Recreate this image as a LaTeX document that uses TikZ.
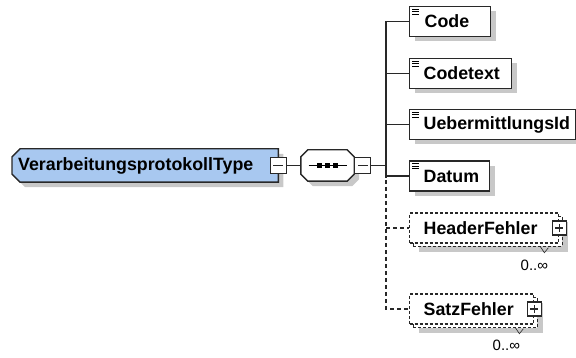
\documentclass[tikz,border=0pt]{standalone}
\usepackage{fontspec}
\setmainfont{Liberation Sans}
\usetikzlibrary{shadows,backgrounds}

\definecolor{linegray}{RGB}{40,40,40}
\definecolor{shadegray}{RGB}{200,200,200}
\definecolor{rootblue}{RGB}{168,200,240}

\newcommand\elemfont{\fontsize{17.8}{20}\selectfont\bfseries}
\newcommand\simpleicon[1]{%
  \foreach \dy in {3.5,6,8.5}
    \draw[line width=0.8pt] ([shift={(3,\dy)}]#1.north west) -- ++(7,0);}

\begin{document}
\begin{tikzpicture}[
    x=1pt, y=-1pt,
    conn/.style={draw=linegray, line width=1.3pt},
    optconn/.style={conn, dash pattern=on 4pt off 3pt},
    boxline/.style={draw=linegray, line width=1.4pt},
    shade/.style={drop shadow={shadow xshift=5pt, shadow yshift=-5pt, fill=shadegray, opacity=1}},
    elembase/.style={boxline, fill=white, text width=#1,
        inner xsep=0pt, inner ysep=0pt, minimum height=30pt, align=left,
        anchor=west, font=\elemfont},
    elem/.style={elembase=#1, shade},
    optelem/.style={elembase=#1, dash pattern=on 3pt off 2pt,
        drop shadow={shadow xshift=9pt, shadow yshift=-9pt, fill=shadegray, opacity=1},
        copy shadow={shadow xshift=3.5pt, shadow yshift=-3.5pt, draw=linegray,
            fill=white, line width=1.2pt, dash pattern=on 3pt off 2pt}},
    rootbox/.style={text width=266pt, inner xsep=0pt, inner ysep=0pt,
        minimum height=33pt, align=left, anchor=west, font=\elemfont},
    seqbox/.style={minimum width=53pt, minimum height=31pt, inner sep=0pt},
    minusbox/.style={draw=linegray, line width=1.2pt, fill=white, minimum size=#1,
        inner sep=0pt, path picture={
            \draw[line width=1.2pt] ([xshift=3pt]path picture bounding box.west)
                -- ([xshift=-3pt]path picture bounding box.east);}},
    plusbox/.style={draw=linegray, line width=1.2pt, fill=white, minimum size=#1,
        inner sep=0pt, path picture={
            \draw[line width=1.2pt] ([xshift=3pt]path picture bounding box.west)
                -- ([xshift=-3pt]path picture bounding box.east);
            \draw[line width=1.2pt] ([yshift=3pt]path picture bounding box.south)
                -- ([yshift=-3pt]path picture bounding box.north);}},
    occurs/.style={font=\fontsize{15}{17}\selectfont, inner sep=0pt}
]
\useasboundingbox (0,0) rectangle (576,358);

% Typ und Sequenz
\node[rootbox] (root) at (12,165.5) {\hspace*{6pt}VerarbeitungsprotokollType};
\node[minusbox=16pt] (rootminus) at (root.east) {};
\node[seqbox] (seq) at (327.5,165.5) {};
\draw[line width=1.2pt] ([xshift=-19pt]seq.center) -- ([xshift=19pt]seq.center);
\foreach \dx in {-8,0,8}
  \fill ([xshift=\dx pt]seq.center) +(-2.2,-2.2) rectangle +(2.2,2.2);
\node[minusbox=16pt, anchor=west] (seqminus) at (seq.east) {};
\coordinate (hub) at (386,165.5);
\begin{scope}[on background layer]
  \filldraw[boxline, fill=rootblue, shade] ([xshift=8pt]root.north west) -- (root.north east)
    -- (root.south east) -- ([xshift=8pt]root.south west) -- ([yshift=8pt]root.south west)
    -- ([yshift=-8pt]root.north west) -- cycle;
  \filldraw[boxline, fill=white, shade] ([xshift=7pt]seq.north west) -- ([xshift=-7pt]seq.north east)
    -- ([yshift=-7pt]seq.north east) -- ([yshift=7pt]seq.south east) -- ([xshift=-7pt]seq.south east)
    -- ([xshift=7pt]seq.south west) -- ([yshift=7pt]seq.south west) -- ([yshift=-7pt]seq.north west) -- cycle;
\end{scope}

% Kindelemente
\node[elem=81pt] (code) at (409,21.5) {\hspace*{15pt}Code};
\node[elem=102pt] (codetext) at (409,73.5) {\hspace*{14pt}Codetext};
\node[elem=166pt] (uebid) at (409,124.5) {\hspace*{14pt}UebermittlungsId};
\node[elem=80pt] (datum) at (409,176) {\hspace*{14pt}Datum};
\foreach \n in {code,codetext,uebid,datum}
  \simpleicon{\n};

\node[optelem=149pt] (header) at (409,228) {\hspace*{14pt}HeaderFehler};
\node[plusbox=14pt] (headerplus) at (header.east) {};
\draw[line width=0.6pt, linegray] ([shift={(-19,3)}]header.south east) -- ++(4,6) -- ++(4,-5);
\node[occurs] (headerocc) at ([shift={(-25,22)}]header.south east) {0..∞};

\node[optelem=124pt] (satz) at (409,309) {\hspace*{14pt}SatzFehler};
\node[plusbox=14pt] (satzplus) at (satz.east) {};
\draw[line width=0.6pt, linegray] ([shift={(-19,3)}]satz.south east) -- ++(4,6) -- ++(4,-5);
\node[occurs] (satzocc) at ([shift={(-28,21)}]satz.south east) {0..∞};

% Verbindungen
\draw[conn] (rootminus.east) -- (seq.west);
\draw[conn] (seqminus.east) -- (hub);
\draw[conn] (code.west) -- (code.west -| hub) -- ([yshift=-2pt]datum.west -| hub);
\draw[conn] (codetext.west -| hub) -- (codetext.west);
\draw[conn] (uebid.west -| hub) -- (uebid.west);
\draw[conn] (datum.west -| hub) -- (datum.west);
\draw[optconn] ([yshift=-4pt]datum.west -| hub) -- (satz.west -| hub) -- (satz.west);
\draw[optconn] (header.west -| hub) -- (header.west);
\end{tikzpicture}
\end{document}
